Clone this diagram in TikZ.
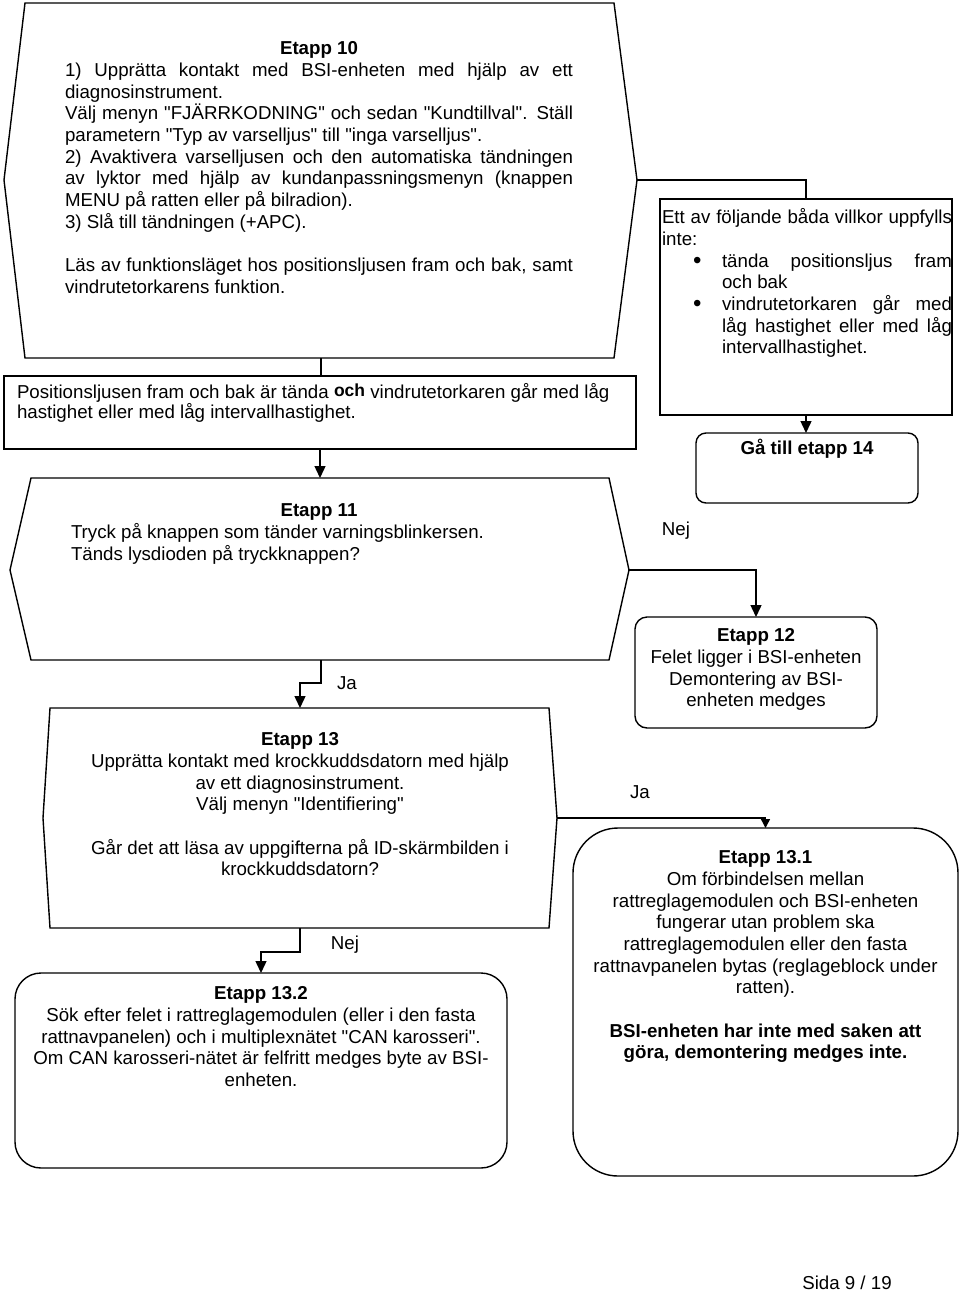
\documentclass[tikz,border=0pt]{standalone}
\usepackage{fontspec}
\setmainfont{Liberation Sans}[Ligatures=TeXOff]
\usetikzlibrary{arrows.meta}
\setlength{\parindent}{0pt}
\newcommand{\myst}{\rule{0pt}{14pt}}
\newcommand{\bulx}{\makebox[60pt][l]{\hspace{31pt}{\fontsize{24}{24}\selectfont\raisebox{-1pt}{\textbullet}}}}
\newcommand{\indx}{\makebox[60pt]{}}
\begin{document}
\begin{tikzpicture}[x=1pt,y=-1pt,
  ln/.style={line width=1.4pt, draw=black},
  arr/.style={ln, -{Triangle[length=12pt,width=11pt]}},
  sarr/.style={ln, -{Triangle[length=9pt,width=9pt]}},
  txt/.style={font=\fontsize{18.7}{21.7}\selectfont, inner sep=0pt, outer sep=0pt},
  boxr/.style={ln, rectangle, inner sep=0pt, outer sep=0pt},
]
\useasboundingbox (0,0) rectangle (960,1293);

% ---------- Etapp 10 hexagon ----------
\coordinate (h10nw) at (25,3);
\coordinate (h10ne) at (614,3);
\coordinate (h10e) at (637,180);
\coordinate (h10se) at (614,358);
\coordinate (h10s) at (321,358);
\coordinate (h10sw) at (25,358);
\coordinate (h10w) at (4,180);
\draw[ln] (h10nw) -- (h10ne) -- (h10e) -- (h10se) -- (h10sw) -- (h10w) -- cycle;
\node[txt, align=left, anchor=north west] (t10) at (65,40.6) {%
\makebox[508pt][c]{\myst\bfseries Etapp 10}\\
\makebox[508pt][s]{1) Upprätta kontakt med BSI-enheten med hjälp av ett}\\
diagnosinstrument.\\
\makebox[508pt][s]{Välj menyn "FJÄRRKODNING" och sedan "Kundtillval". Ställ}\\
parametern "Typ av varselljus" till "inga varselljus".\\
\makebox[508pt][s]{2) Avaktivera varselljusen och den automatiska tändningen}\\
\makebox[508pt][s]{av lyktor med hjälp av kundanpassningsmenyn (knappen}\\
MENU på ratten eller på bilradion).\\
3) Slå till tändningen (+APC).\\[21.7pt]
\makebox[508pt][s]{Läs av funktionsläget hos positionsljusen fram och bak, samt}\\
vindrutetorkarens funktion.};

% ---------- right condition box ----------
\node[boxr, minimum width=292pt, minimum height=216pt] (rb) at (806,307) {};
\node[txt, align=left, anchor=north west] (trb) at (662,208.6) {%
\makebox[290pt][s]{\myst Ett av följande båda villkor uppfylls}\\
inte:\\
\bulx\makebox[230pt][s]{tända positionsljus fram}\\
\indx och bak\\
\bulx\makebox[230pt][s]{vindrutetorkaren går med}\\
\indx\makebox[230pt][s]{låg hastighet eller med låg}\\
\indx intervallhastighet.};

% ---------- Gå till etapp 14 ----------
\node[boxr, rounded corners=10pt, minimum width=222pt, minimum height=70pt] (ga) at (807,468) {};
\node[txt, font=\fontsize{18.7}{21.7}\selectfont\bfseries] (tga) at (807,449) {Gå till etapp 14};

% ---------- Positionsljusen box ----------
\node[boxr, minimum width=632pt, minimum height=73pt] (pos) at (320,412.5) {};
\node[txt, font=\fontsize{18.7}{20}\selectfont, align=left, anchor=north west] (tpos) at (17,383.6) {%
\myst Positionsljusen fram och bak är tända \raisebox{2pt}{\fontsize{17.5}{20}\selectfont\bfseries och} vindrutetorkaren går med låg\\
hastighet eller med låg intervallhastighet.};

% ---------- Etapp 11 hexagon ----------
\coordinate (h11nw) at (31,478);
\coordinate (h11n) at (320,478);
\coordinate (h11ne) at (609,478);
\coordinate (h11e) at (629,570);
\coordinate (h11se) at (609,660);
\coordinate (h11s) at (321,660);
\coordinate (h11sw) at (31,660);
\coordinate (h11w) at (10,570);
\draw[ln] (h11nw) -- (h11ne) -- (h11e) -- (h11se) -- (h11sw) -- (h11w) -- cycle;
\node[txt, align=left, anchor=north west] (t11) at (71,502.6) {%
\makebox[496pt][c]{\myst\bfseries Etapp 11}\\
Tryck på knappen som tänder varningsblinkersen.\\
Tänds lysdioden på tryckknappen?};

% ---------- Etapp 12 ----------
\node[boxr, rounded corners=12pt, minimum width=242pt, minimum height=111pt] (e12) at (756,672.5) {};
\node[txt, align=center, anchor=north] (t12) at (756,627.6) {%
\myst\textbf{Etapp 12}\\
Felet ligger i BSI-enheten\\
Demontering av BSI-\\
enheten medges};

% ---------- Etapp 13 hexagon ----------
\coordinate (h13nw) at (50,708);
\coordinate (h13n) at (300,708);
\coordinate (h13ne) at (549,708);
\coordinate (h13e) at (557,818);
\coordinate (h13se) at (549,928);
\coordinate (h13s) at (300,928);
\coordinate (h13sw) at (50,928);
\coordinate (h13w) at (43,818);
\draw[ln] (h13nw) -- (h13ne) -- (h13e) -- (h13se) -- (h13sw) -- (h13w) -- cycle;
\node[txt, align=center, anchor=north] (t13) at (300,731.6) {%
\myst\textbf{Etapp 13}\\
Upprätta kontakt med krockkuddsdatorn med hjälp\\
av ett diagnosinstrument.\\
Välj menyn "Identifiering"\\[21.7pt]
Går det att läsa av uppgifterna på ID-skärmbilden i\\
krockkuddsdatorn?};

% ---------- Etapp 13.1 ----------
\node[boxr, rounded corners=45pt, minimum width=385pt, minimum height=348pt] (e131) at (765.5,1002) {};
\node[txt, align=center, anchor=north] (t131) at (765.5,849.6) {%
\myst\textbf{Etapp 13.1}\\
Om förbindelsen mellan\\
rattreglagemodulen och BSI-enheten\\
fungerar utan problem ska\\
rattreglagemodulen eller den fasta\\
rattnavpanelen bytas (reglageblock under\\
ratten).\\[21.7pt]
\textbf{BSI-enheten har inte med saken att}\\
\textbf{göra, demontering medges inte.}};

% ---------- Etapp 13.2 ----------
\node[boxr, rounded corners=26pt, minimum width=492pt, minimum height=195pt] (e132) at (261,1070.5) {};
\node[txt, align=center, anchor=north] (t132) at (261,985.6) {%
\myst\textbf{Etapp 13.2}\\
Sök efter felet i rattreglagemodulen (eller i den fasta\\
rattnavpanelen) och i multiplexnätet "CAN karosseri".\\
Om CAN karosseri-nätet är felfritt medges byte av BSI-\\
enheten.};

% ---------- connectors ----------
\draw[ln] (h10e) -| (rb.north);
\draw[arr] (rb.south) -- (rb.south |- ga.north);
\draw[ln] (h10s) -- (h10s |- pos.north);
\draw[arr] (pos.south) -- (h11n);
\draw[arr] (h11e) -| (e12.north);
\draw[arr] (h11s) -- ++(0,23) -| (h13n);
\draw[sarr] (h13e) -| (e131.north);
\draw[arr] (h13s) -- ++(0,24) -| (e132.north);

% ---------- labels ----------
\node[txt] (lnej1) at (676,531) {Nej};
\node[txt] (lja1) at (347,683) {Ja};
\node[txt] (lja2) at (640,792) {Ja};
\node[txt] (lnej2) at (345,945) {Nej};
\node[txt] (sida) at (847,1283) {Sida 9 / 19};
\end{tikzpicture}
\end{document}
